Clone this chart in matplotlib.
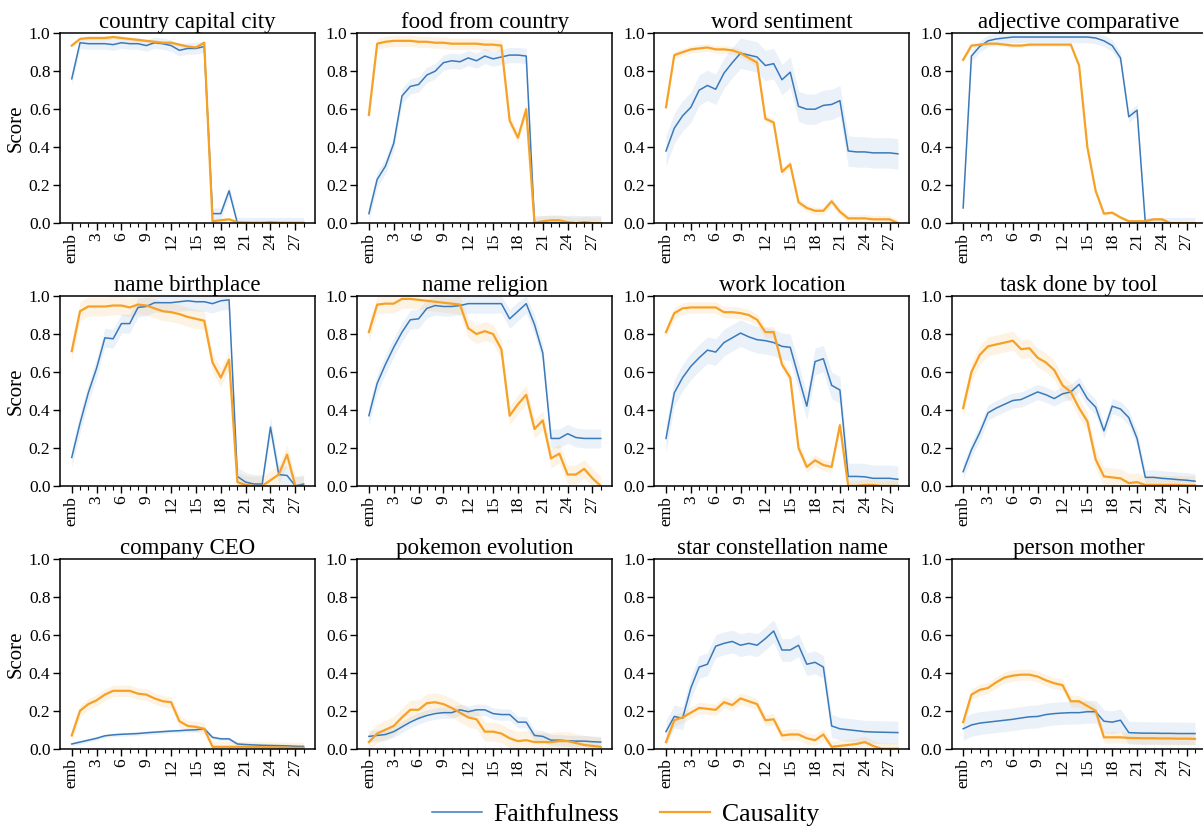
import matplotlib
matplotlib.use("Agg")
import matplotlib.pyplot as plt
import matplotlib.lines as mlines
import numpy as np

plt.rcParams['font.family'] = ['Liberation Serif', 'DejaVu Serif']

titles = ["country capital city", "food from country", "word sentiment", "adjective comparative",
          "name birthplace", "name religion", "work location", "task done by tool",
          "company CEO", "pokemon evolution", "star constellation name", "person mother"]

layers = np.arange(29)  # emb + 28 layers
tick_pos = [0, 3, 6, 9, 12, 15, 18, 21, 24, 27]
tick_labels = ["emb", "3", "6", "9", "12", "15", "18", "21", "24", "27"]

faith = [
    [0.76, 0.95, 0.945, 0.945, 0.945, 0.94, 0.95, 0.945, 0.945, 0.935, 0.95, 0.945, 0.935, 0.91, 0.92,
     0.92, 0.93, 0.05, 0.05, 0.17, 0.0, 0, 0, 0, 0, 0, 0, 0, 0],
    [0.05, 0.23, 0.30, 0.42, 0.67, 0.72, 0.73, 0.78, 0.80, 0.845, 0.855, 0.85, 0.87, 0.855, 0.88,
     0.865, 0.875, 0.885, 0.885, 0.88, 0.0, 0, 0, 0, 0, 0, 0, 0, 0],
    [0.38, 0.50, 0.565, 0.61, 0.70, 0.725, 0.705, 0.79, 0.845, 0.895, 0.885, 0.875, 0.83, 0.84, 0.755,
     0.795, 0.615, 0.60, 0.60, 0.62, 0.625, 0.645, 0.38, 0.375, 0.375, 0.37, 0.37, 0.37, 0.365],
    [0.08, 0.88, 0.93, 0.96, 0.97, 0.975, 0.98, 0.98, 0.98, 0.98, 0.98, 0.98, 0.98, 0.98, 0.98,
     0.98, 0.975, 0.96, 0.935, 0.87, 0.56, 0.595, 0.0, 0, 0, 0, 0, 0, 0],
    [0.15, 0.33, 0.49, 0.62, 0.78, 0.775, 0.855, 0.855, 0.94, 0.945, 0.965, 0.965, 0.965, 0.97, 0.975,
     0.97, 0.97, 0.96, 0.975, 0.98, 0.05, 0.02, 0.01, 0.01, 0.31, 0.06, 0.055, 0.0, 0.01],
    [0.37, 0.54, 0.64, 0.73, 0.81, 0.875, 0.88, 0.935, 0.95, 0.945, 0.945, 0.95, 0.96, 0.96, 0.96,
     0.96, 0.96, 0.88, 0.92, 0.96, 0.85, 0.70, 0.25, 0.25, 0.275, 0.255, 0.25, 0.25, 0.25],
    [0.25, 0.49, 0.57, 0.63, 0.675, 0.715, 0.705, 0.755, 0.78, 0.805, 0.785, 0.77, 0.765, 0.755, 0.735,
     0.73, 0.575, 0.42, 0.655, 0.67, 0.53, 0.505, 0.05, 0.05, 0.048, 0.04, 0.04, 0.04, 0.035],
    [0.075, 0.19, 0.28, 0.385, 0.41, 0.43, 0.45, 0.455, 0.475, 0.495, 0.48, 0.46, 0.485, 0.495, 0.535,
     0.46, 0.415, 0.29, 0.42, 0.405, 0.36, 0.25, 0.045, 0.045, 0.04, 0.037, 0.033, 0.03, 0.025],
    [0.025, 0.035, 0.045, 0.055, 0.068, 0.073, 0.076, 0.078, 0.08, 0.084, 0.087, 0.09, 0.093, 0.095, 0.098,
     0.10, 0.105, 0.06, 0.052, 0.052, 0.025, 0.022, 0.02, 0.018, 0.017, 0.016, 0.015, 0.013, 0.012],
    [0.065, 0.07, 0.075, 0.09, 0.115, 0.14, 0.16, 0.175, 0.185, 0.19, 0.19, 0.205, 0.195, 0.205, 0.205,
     0.185, 0.18, 0.18, 0.14, 0.14, 0.07, 0.065, 0.045, 0.045, 0.042, 0.04, 0.04, 0.037, 0.035],
    [0.09, 0.17, 0.16, 0.32, 0.43, 0.445, 0.54, 0.555, 0.565, 0.545, 0.555, 0.545, 0.58, 0.62, 0.52,
     0.52, 0.545, 0.445, 0.455, 0.43, 0.12, 0.105, 0.10, 0.095, 0.09, 0.088, 0.087, 0.086, 0.085],
    [0.105, 0.125, 0.135, 0.14, 0.145, 0.15, 0.155, 0.162, 0.168, 0.17, 0.18, 0.185, 0.188, 0.19, 0.19,
     0.195, 0.195, 0.145, 0.14, 0.15, 0.085, 0.083, 0.082, 0.082, 0.081, 0.081, 0.08, 0.08, 0.08],
]

causal = [
    [0.935, 0.97, 0.975, 0.975, 0.975, 0.98, 0.975, 0.97, 0.965, 0.96, 0.955, 0.95, 0.95, 0.94, 0.93,
     0.925, 0.95, 0.01, 0.015, 0.02, 0.005, 0.003, 0.002, 0.002, 0.005, 0.002, 0.002, 0.002, 0.002],
    [0.57, 0.945, 0.955, 0.96, 0.96, 0.96, 0.955, 0.955, 0.95, 0.95, 0.945, 0.945, 0.945, 0.945, 0.94,
     0.94, 0.935, 0.54, 0.45, 0.60, 0.0, 0.01, 0.015, 0.015, 0.005, 0.0, 0.005, 0.0, 0.0],
    [0.61, 0.885, 0.90, 0.915, 0.92, 0.925, 0.915, 0.915, 0.91, 0.895, 0.87, 0.845, 0.55, 0.53, 0.27,
     0.31, 0.11, 0.08, 0.065, 0.065, 0.115, 0.06, 0.025, 0.025, 0.025, 0.02, 0.02, 0.02, 0.0],
    [0.86, 0.935, 0.94, 0.945, 0.945, 0.94, 0.935, 0.935, 0.94, 0.94, 0.94, 0.94, 0.94, 0.94, 0.83,
     0.40, 0.17, 0.05, 0.055, 0.03, 0.01, 0.01, 0.01, 0.02, 0.02, 0.0, 0.0, 0.0, 0.0],
    [0.71, 0.92, 0.945, 0.945, 0.945, 0.95, 0.95, 0.94, 0.955, 0.95, 0.935, 0.92, 0.915, 0.905, 0.89,
     0.88, 0.87, 0.65, 0.57, 0.665, 0.02, 0.005, 0.0, 0.0, 0.03, 0.06, 0.165, 0.0, 0.0],
    [0.81, 0.955, 0.96, 0.96, 0.985, 0.985, 0.98, 0.975, 0.97, 0.965, 0.96, 0.955, 0.83, 0.80, 0.815,
     0.80, 0.72, 0.37, 0.43, 0.48, 0.30, 0.345, 0.145, 0.17, 0.06, 0.06, 0.09, 0.04, 0.0],
    [0.81, 0.91, 0.935, 0.94, 0.94, 0.94, 0.94, 0.915, 0.915, 0.91, 0.90, 0.875, 0.81, 0.81, 0.64,
     0.57, 0.20, 0.10, 0.135, 0.11, 0.10, 0.32, 0.0, 0.0, 0.005, 0.005, 0.0, 0.0, 0.0],
    [0.41, 0.60, 0.69, 0.735, 0.745, 0.755, 0.765, 0.72, 0.725, 0.675, 0.65, 0.61, 0.53, 0.495, 0.41,
     0.34, 0.14, 0.05, 0.045, 0.04, 0.015, 0.02, 0.005, 0.005, 0.005, 0.005, 0.005, 0.003, 0.003],
    [0.07, 0.20, 0.235, 0.255, 0.285, 0.305, 0.305, 0.305, 0.29, 0.285, 0.265, 0.25, 0.245, 0.145, 0.12,
     0.115, 0.105, 0.01, 0.01, 0.01, 0.01, 0.01, 0.009, 0.008, 0.008, 0.007, 0.006, 0.005, 0.005],
    [0.035, 0.08, 0.10, 0.12, 0.165, 0.205, 0.205, 0.24, 0.245, 0.235, 0.215, 0.19, 0.165, 0.155, 0.09,
     0.09, 0.08, 0.055, 0.04, 0.045, 0.035, 0.035, 0.035, 0.04, 0.04, 0.03, 0.02, 0.015, 0.01],
    [0.035, 0.15, 0.165, 0.19, 0.215, 0.21, 0.205, 0.245, 0.23, 0.265, 0.25, 0.235, 0.15, 0.155, 0.07,
     0.075, 0.075, 0.055, 0.045, 0.075, 0.01, 0.015, 0.02, 0.025, 0.035, 0.015, 0.0, 0.0, 0.0],
    [0.14, 0.285, 0.31, 0.32, 0.35, 0.375, 0.385, 0.39, 0.39, 0.38, 0.36, 0.345, 0.335, 0.25, 0.25,
     0.225, 0.20, 0.06, 0.06, 0.06, 0.057, 0.056, 0.055, 0.055, 0.054, 0.054, 0.053, 0.053, 0.052],
]

# rough spread of the shaded bands per panel
faith_spread = [0.03, 0.04, 0.08, 0.03, 0.05, 0.05, 0.07, 0.04, 0.01, 0.03, 0.06, 0.06]
causal_spread = [0.01, 0.03, 0.02, 0.01, 0.05, 0.05, 0.03, 0.05, 0.03, 0.05, 0.03, 0.03]

blue = '#3a7abb'
orange = '#f6a126'

fig, axes = plt.subplots(3, 4, figsize=(12.03, 8.31), dpi=100)
fig.subplots_adjust(left=0.05, right=1.003, top=0.960, bottom=0.099, wspace=0.165, hspace=0.384)

for i, ax in enumerate(axes.flat):
    f = np.array(faith[i])
    c = np.array(causal[i])
    ax.fill_between(layers, np.clip(f - faith_spread[i], 0, 1), np.clip(f + faith_spread[i], 0, 1),
                    color=blue, alpha=0.1, linewidth=0)
    ax.fill_between(layers, np.clip(c - causal_spread[i], 0, 1), np.clip(c + causal_spread[i], 0, 1),
                    color=orange, alpha=0.12, linewidth=0)
    ax.plot(layers, f, color=blue, linewidth=1.1)
    ax.plot(layers, c, color=orange, linewidth=1.6)
    ax.set_title(titles[i], fontsize=16.5, pad=3)
    ax.set_ylim(0, 1.0)
    ax.set_xlim(-1.4, 29.4)
    ax.set_yticks(np.arange(0, 1.01, 0.2))
    ax.set_yticklabels([f"{v:.1f}" for v in np.arange(0, 1.01, 0.2)], fontsize=12.5)
    ax.set_xticks(tick_pos)
    ax.set_xticklabels(tick_labels, rotation=90, fontsize=12.5)
    ax.set_xticks(layers, minor=True)
    ax.tick_params(axis='both', which='major', length=5, width=1, pad=2)
    ax.tick_params(axis='x', which='minor', length=3, width=0.8)
    for s in ax.spines.values():
        s.set_linewidth(1.1)
    if i % 4 == 0:
        ax.set_ylabel("Score", fontsize=15, labelpad=2)

handles = [mlines.Line2D([], [], color=blue, linewidth=1.1),
           mlines.Line2D([], [], color=orange, linewidth=1.6)]
fig.legend(handles, ["Faithfulness", "Causality"], loc='lower center', ncol=2, frameon=False,
           fontsize=18.5, bbox_to_anchor=(0.52, -0.022), handlelength=1.95, handletextpad=0.45,
           columnspacing=1.6)

fig.savefig("out.png", dpi=100)
